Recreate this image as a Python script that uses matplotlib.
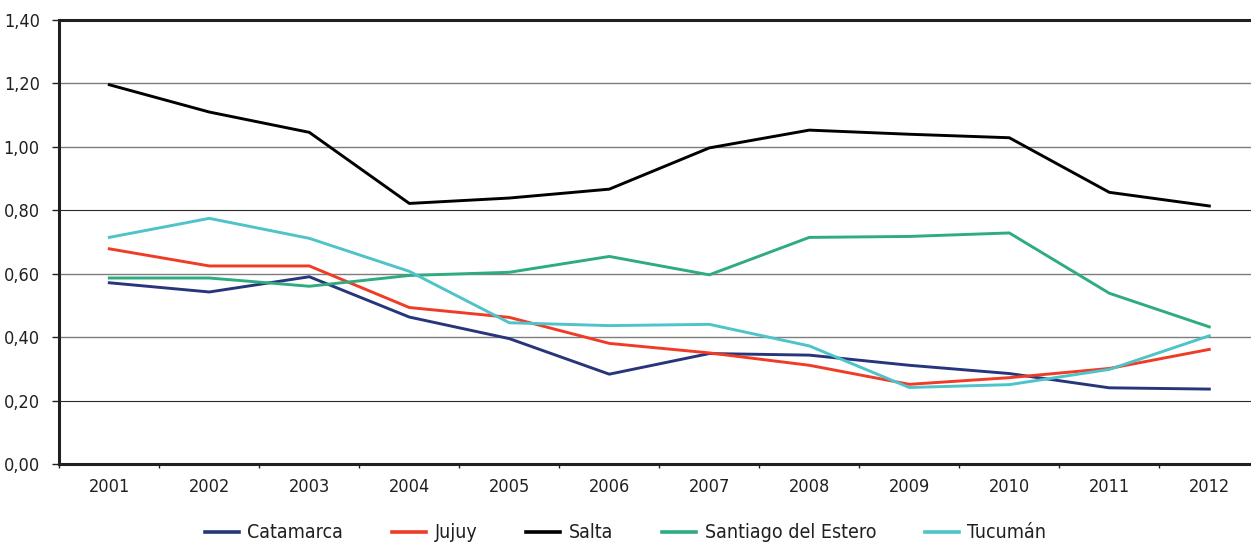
import matplotlib
matplotlib.use("Agg")
import matplotlib.pyplot as plt
from matplotlib import font_manager

years = ["2001", "2002", "2003", "2004", "2005", "2006",
         "2007", "2008", "2009", "2010", "2011", "2012"]

catamarca = [0.572, 0.543, 0.591, 0.464, 0.396, 0.284,
             0.349, 0.344, 0.312, 0.286, 0.241, 0.237]
jujuy = [0.679, 0.625, 0.625, 0.494, 0.463, 0.381,
         0.351, 0.312, 0.252, 0.273, 0.302, 0.362]
salta = [1.196, 1.110, 1.046, 0.822, 0.839, 0.867,
         0.997, 1.053, 1.040, 1.029, 0.857, 0.814]
santiago = [0.587, 0.587, 0.561, 0.595, 0.605, 0.655,
            0.597, 0.715, 0.718, 0.729, 0.539, 0.433]
tucuman = [0.715, 0.775, 0.712, 0.608, 0.446, 0.437,
           0.441, 0.373, 0.242, 0.251, 0.299, 0.405]

series_names = ["Catamarca", "Jujuy", "Salta", "Santiago del Estero", "Tucumán"]
y_ticks = [0.0, 0.2, 0.4, 0.6, 0.8, 1.0, 1.2, 1.4]

colors = ["#27357a", "#f03b27", "#000000", "#2fab80", "#4ec3c9"]
ink = "#231f20"

# condensed face if one is around, else plain DejaVu
faces = font_manager.fontManager.ttflist
if any(f.name == "Liberation Sans Narrow" for f in faces):
    plt.rcParams["font.family"] = ["Liberation Sans Narrow", "DejaVu Sans"]
else:
    plt.rcParams["font.family"] = ["DejaVu Sans"]
    plt.rcParams["font.stretch"] = "condensed"

fig = plt.figure(figsize=(12.51, 5.47), dpi=100)
ax = fig.add_axes([59.3 / 1251, 82.7 / 547, 1200 / 1251, 444.3 / 547])

x = list(range(len(years)))
for values, name, color in zip([catamarca, jujuy, salta, santiago, tucuman], series_names, colors):
    ax.plot(x, values, color=color, lw=2.1, label=name, zorder=3)

ax.set_xlim(-0.5, len(years) - 0.5)
ax.set_ylim(0, 1.4)

ax.set_yticks(y_ticks)
ax.set_yticklabels([f"{v:.2f}".replace(".", ",") for v in y_ticks])
ax.set_xticks(x)
ax.set_xticklabels(years)
ax.set_xticks([i - 0.5 for i in range(len(years) + 1)], minor=True)

ax.tick_params(axis="x", which="major", length=0, pad=10, labelsize=13, labelcolor=ink)
ax.tick_params(axis="x", which="minor", length=3, width=1, color=ink, direction="out")
ax.tick_params(axis="y", length=5, width=1, color=ink, pad=9, labelsize=13, labelcolor=ink)

# gridlines: the reference shows 0,20 and 0,80 crisper/darker than the rest
for v in y_ticks[1:-1]:
    if round(v, 2) in (0.2, 0.8):
        ax.axhline(v, color="#2a2a2a", lw=0.8, zorder=1)
    else:
        ax.axhline(v, color="#7d7d7d", lw=1.0, zorder=1)

for side in ["left", "bottom", "top"]:
    ax.spines[side].set_linewidth(2.2)
    ax.spines[side].set_color(ink)
ax.spines["right"].set_visible(False)

leg = fig.legend(loc="center", bbox_to_anchor=(0.5, 1 - 533 / 547), ncol=5,
                 frameon=False, fontsize=14, handlelength=1.75, handletextpad=0.45,
                 columnspacing=2.5)
for t in leg.get_texts():
    t.set_color(ink)
for h in leg.get_lines():
    h.set_linewidth(2.6)

fig.savefig("out.png", dpi=100)
